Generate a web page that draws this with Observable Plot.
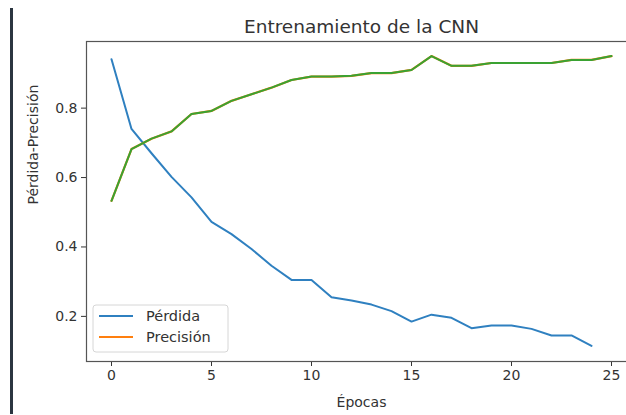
<!DOCTYPE html>
<html>
<head>
<meta charset="utf-8">
<script src="https://cdn.jsdelivr.net/npm/d3@7"></script>
<script src="https://cdn.jsdelivr.net/npm/@observablehq/plot@0.6"></script>
<style>
  html, body { margin: 0; padding: 0; overflow: hidden; background: #fff; width: 626px; height: 415px; }
  #wrap { position: relative; width: 626px; height: 415px; overflow: hidden; }
  #bar { position: absolute; left: 10px; top: 8px; width: 2.5px; height: 406px; background: #2b3540; }
  #chart { position: absolute; left: 0; top: 0; width: 636px; }
  #chart svg { max-width: none !important; }
</style>
</head>
<body>
<div id="wrap"><div id="chart"></div><div id="bar"></div></div>
<script>
const title = "Entrenamiento de la CNN";
const xLabel = "Épocas";
const yLabel = "Pérdida-Precisión";
const seriesNames = ["Pérdida", "Precisión"];
const seriesColors = ["#2f80c0", "#ff7f0e"];
const drawColor = "#3aa232";
const xTicks = [0, 5, 10, 15, 20, 25];
const yTicks = [0.2, 0.4, 0.6, 0.8];

const loss = [0.941, 0.740, 0.670, 0.602, 0.543, 0.472, 0.437, 0.394, 0.346, 0.305,
              0.305, 0.255, 0.246, 0.234, 0.215, 0.185, 0.205, 0.196, 0.166, 0.174,
              0.174, 0.164, 0.145, 0.145, 0.115];
const precision = [0.533, 0.682, 0.712, 0.733, 0.783, 0.792, 0.821, 0.840, 0.859, 0.881,
                   0.891, 0.891, 0.893, 0.901, 0.901, 0.910, 0.950, 0.922, 0.922, 0.930,
                   0.930, 0.930, 0.930, 0.939, 0.939, 0.950];

const lossData = loss.map((v, i) => ({epoch: i, value: v}));
const precData = precision.map((v, i) => ({epoch: i, value: v}));

const ink = "#333333";
const font = "DejaVu Sans, sans-serif";

const svg = Plot.plot({
  width: 636,
  height: 415,
  marginLeft: 86,
  marginRight: 0,
  marginTop: 41,
  marginBottom: 54,
  style: {fontFamily: font, color: ink, background: "transparent", overflow: "visible", maxWidth: "none"},
  x: {domain: [-1.25, 26.25]},
  y: {domain: [0.07, 0.992]},
  marks: [
    Plot.axisX({ticks: xTicks, tickSize: 5, tickPadding: 4, fontSize: 14, label: null, tickFormat: d3.format("d"), stroke: "#333"}),
    Plot.axisY({ticks: yTicks, tickSize: 5, tickPadding: 4, fontSize: 14, label: null, tickFormat: d3.format(".1f"), stroke: "#333"}),
    Plot.line(lossData, {x: "epoch", y: "value", stroke: seriesColors[0], strokeWidth: 2}),
    Plot.line(precData, {x: "epoch", y: "value", stroke: seriesColors[1], strokeWidth: 2.2}),
    Plot.line(precData, {x: "epoch", y: "value", stroke: drawColor, strokeWidth: 2}),
    Plot.frame({stroke: "#555", strokeWidth: 1.2}),
    Plot.text([title], {frameAnchor: "top", dy: -14, fontSize: 18.5, fill: ink, lineAnchor: "middle"}),
    Plot.text([xLabel], {frameAnchor: "bottom", dy: 41, fontSize: 14, fill: ink, lineAnchor: "middle"}),
    Plot.text([yLabel], {frameAnchor: "left", dx: -53, dy: 3, rotate: -90, fontSize: 14, fill: ink, lineAnchor: "middle"})
  ]
});

// legend
const lg = d3.select(svg).append("g").attr("font-family", font).attr("text-anchor", "start");
lg.append("rect").attr("x", 93).attr("y", 305).attr("width", 135).attr("height", 47)
  .attr("rx", 3).attr("fill", "#fff").attr("fill-opacity", 0.8).attr("stroke", "#d6d6d6");
seriesNames.forEach((name, i) => {
  const y = 316 + i * 21;
  lg.append("line").attr("x1", 99).attr("x2", 133).attr("y1", y).attr("y2", y)
    .attr("stroke", seriesColors[i]).attr("stroke-width", 2);
  lg.append("text").attr("x", 146).attr("y", y).attr("dy", "0.35em")
    .attr("font-size", 14.5).attr("fill", ink).text(name);
});

document.getElementById("chart").appendChild(svg);
</script>
</body>
</html>
